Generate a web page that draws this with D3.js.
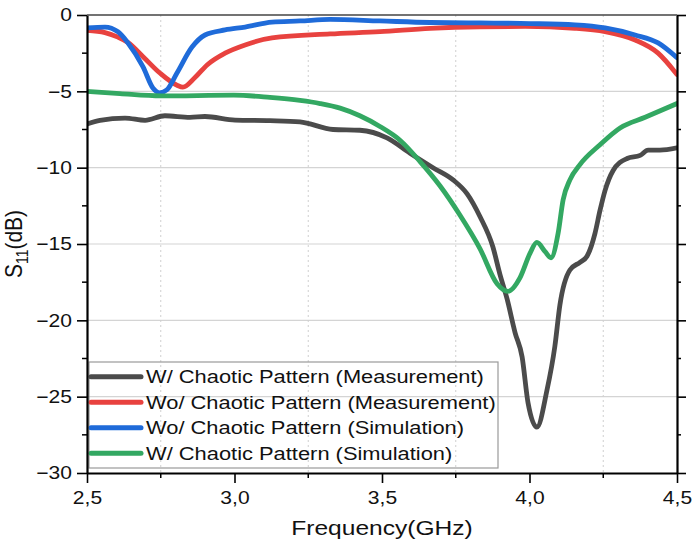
<!DOCTYPE html>
<meta charset="utf-8">
<title>S11 vs Frequency</title>
<style>
body { margin: 0; background: #fff; }
svg { font-family: "Liberation Sans", Arial, sans-serif; }
.grid-y line { stroke: #d4d4d4; stroke-width: 1.2px; }
.grid-x line { stroke: #cfcfcf; stroke-width: 1px; stroke-dasharray: 2,3; }
.axis path, .axis line { stroke: #000; }
.axis text { fill: #111; }
.curve { fill: none; stroke-width: 4.8px; stroke-linejoin: round; stroke-linecap: round; }
</style>
<svg width="694" height="551"></svg>
<script src="https://d3js.org/d3.v7.min.js"></script>
<script>
// W/ Chaotic Pattern (Measurement)
var wMeasF = [2.500, 2.544, 2.629, 2.697, 2.764, 2.849, 2.900, 3.002, 3.120, 3.222, 3.334, 3.425, 3.517, 3.595, 3.673, 3.741, 3.788, 3.832, 3.876, 3.900, 3.924, 3.951, 3.975, 3.995, 4.025, 4.059, 4.086, 4.103, 4.137, 4.171, 4.195, 4.222, 4.239, 4.256, 4.283, 4.331, 4.375, 4.402, 4.442, 4.500]
var wMeasS = [-7.14, -6.9, -6.75, -6.9, -6.6, -6.7, -6.65, -6.88, -6.92, -7.0, -7.5, -7.55, -8.05, -9.05, -10.0, -10.8, -11.7, -13.2, -15.2, -17.0, -18.6, -20.8, -22.4, -25.4, -27.0, -24.6, -21.7, -19.0, -16.7, -16.2, -15.8, -14.3, -12.8, -11.5, -10.2, -9.4, -9.2, -8.85, -8.85, -8.7]

// Wo/ Chaotic Pattern (Measurement)
var woMeasF = [2.500, 2.561, 2.605, 2.639, 2.690, 2.747, 2.805, 2.825, 2.866, 2.907, 2.968, 3.036, 3.127, 3.324, 3.493, 3.663, 3.832, 3.985, 4.154, 4.256, 4.358, 4.436, 4.500]
var woMeasS = [-1.0, -1.15, -1.45, -1.8, -2.73, -3.8, -4.6, -4.73, -4.1, -3.27, -2.5, -1.96, -1.5, -1.24, -1.09, -0.87, -0.77, -0.75, -0.87, -1.09, -1.64, -2.5, -3.9]

// Wo/ Chaotic Pattern (Simulation)
var woSimF = [2.500, 2.561, 2.605, 2.639, 2.690, 2.724, 2.747, 2.771, 2.805, 2.856, 2.900, 2.968, 3.036, 3.127, 3.222, 3.324, 3.493, 3.663, 3.832, 4.002, 4.154, 4.256, 4.358, 4.436, 4.500]
var woSimS = [-0.85, -0.79, -1.1, -1.83, -3.4, -4.8, -5.1, -4.9, -3.8, -2.1, -1.31, -0.98, -0.79, -0.46, -0.39, -0.29, -0.39, -0.49, -0.52, -0.56, -0.65, -0.85, -1.31, -1.83, -2.8]

// W/ Chaotic Pattern (Simulation)
var wSimF = [2.500, 2.612, 2.751, 2.998, 3.120, 3.222, 3.290, 3.358, 3.425, 3.493, 3.561, 3.629, 3.697, 3.764, 3.832, 3.890, 3.927, 3.968, 4.002, 4.025, 4.053, 4.073, 4.097, 4.114, 4.137, 4.171, 4.239, 4.307, 4.392, 4.500]
var wSimS = [-5.0, -5.15, -5.3, -5.25, -5.4, -5.6, -5.8, -6.1, -6.6, -7.3, -8.2, -9.6, -11.2, -13.1, -15.3, -17.6, -18.1, -17.2, -15.6, -14.9, -15.5, -15.9, -14.3, -12.1, -10.8, -9.8, -8.5, -7.4, -6.7, -5.8]

var legendLabels = ["W/ Chaotic Pattern (Measurement)", "Wo/ Chaotic Pattern (Measurement)", "Wo/ Chaotic Pattern (Simulation)", "W/ Chaotic Pattern (Simulation)"]
var seriesColors = ["#4b4b4b", "#e8423f", "#1f6bd9", "#33a862"]

var xTicks = [2.5, 3.0, 3.5, 4.0, 4.5]
var xMinor = [2.75, 3.25, 3.75, 4.25]
var yTicks = [0, -5, -10, -15, -20, -25, -30]
var yMinor = [-2.5, -7.5, -12.5, -17.5, -22.5, -27.5]

var series = [
	{f: wMeasF, s: wMeasS},
	{f: woMeasF, s: woMeasS},
	{f: woSimF, s: woSimS},
	{f: wSimF, s: wSimS}
]

var SX = 1.17 // the reference text is stretched sideways

var svg = d3.select("svg")
var pL = 87, pR = 677, pT = 15, pB = 473

var x = d3.scaleLinear().domain([2.5, 4.5]).range([pL, pR])
var y = d3.scaleLinear().domain([-30, 0]).range([pB, pT])

// grid
svg.append("g").attr("class", "grid-y")
	.selectAll("line").data(yTicks.filter(function(d) { return d < 0 && d > -30 }))
	.enter().append("line")
		.attr("x1", pL).attr("x2", pR)
		.attr("y1", function(d) { return y(d) }).attr("y2", function(d) { return y(d) })

svg.append("g").attr("class", "grid-x")
	.selectAll("line").data(xMinor)
	.enter().append("line")
		.attr("x1", function(d) { return x(d) }).attr("x2", function(d) { return x(d) })
		.attr("y1", pT).attr("y2", pB)

// legend box (transparent, grid shows through)
var lg = svg.append("g")
lg.append("rect")
	.attr("x", 89).attr("y", 362).attr("width", 409).attr("height", 106)
	.attr("fill", "none").attr("stroke", "#9a9a9a").attr("stroke-width", 1.2)

// curves
svg.append("clipPath").attr("id", "plot")
	.append("rect").attr("x", pL).attr("y", pT - 2).attr("width", pR - pL).attr("height", pB - pT + 2)

var line = d3.line()
	.x(function(d) { return x(d[0]) })
	.y(function(d) { return y(d[1]) })
	.curve(d3.curveMonotoneX)

svg.append("g").attr("clip-path", "url(#plot)")
	.selectAll("path").data(series)
	.enter().append("path")
		.attr("class", "curve")
		.attr("stroke", function(d, i) { return seriesColors[i] })
		.attr("d", function(d) { return line(d.f.map(function(v, k) { return [v, d.s[k]] })) })

// legend entries
var rowY = d3.scaleBand().domain(d3.range(legendLabels.length)).range([364, 466])
legendLabels.forEach(function(lbl, i) {
	var cy = rowY(i) + rowY.bandwidth() / 2
	lg.append("line")
		.attr("x1", 91).attr("x2", 141).attr("y1", cy).attr("y2", cy)
		.attr("stroke", seriesColors[i]).attr("stroke-width", 5).attr("stroke-linecap", "round")
	lg.append("text")
		.attr("transform", "translate(146," + cy + ") scale(" + SX + ",1)")
		.attr("dy", "0.36em")
		.attr("font-size", 18.7)
		.attr("fill", "#111")
		.text(lbl)
})

// axes
var fmtX = function(d) { return d3.format(".1f")(d).replace(".", ",") }

function minorTicks(g, vals, x1, x2, y1, y2) {
	g.selectAll(null).data(vals).enter().append("line")
		.attr("x1", x1).attr("x2", x2).attr("y1", y1).attr("y2", y2)
		.attr("stroke", "#000").attr("stroke-width", 1.5)
}

var gx = svg.append("g").attr("class", "axis")
	.attr("transform", "translate(0," + pB + ")")
	.call(d3.axisBottom(x).tickValues(xTicks).tickFormat(fmtX).tickSize(10).tickSizeOuter(0).tickPadding(8))
gx.selectAll("text").attr("font-size", 18).attr("transform", "scale(" + SX + ",1)")
minorTicks(gx, xMinor, function(d) { return x(d) }, function(d) { return x(d) }, 0, 5)

var gy = svg.append("g").attr("class", "axis")
	.attr("transform", "translate(" + pL + ",0)")
	.call(d3.axisLeft(y).tickValues(yTicks).tickSize(10).tickSizeOuter(0).tickPadding(5))
gy.selectAll("text").attr("font-size", 18)
	.attr("x", -15 / SX).attr("transform", "scale(" + SX + ",1)")
minorTicks(gy, yMinor, 0, -5, function(d) { return y(d) }, function(d) { return y(d) })

var gr = svg.append("g").attr("class", "axis")
	.attr("transform", "translate(" + pR + ",0)")
	.call(d3.axisRight(y).tickValues(yTicks).tickSize(9).tickSizeOuter(0).tickFormat(""))
minorTicks(gr, yMinor, 0, 4, function(d) { return y(d) }, function(d) { return y(d) })

svg.selectAll(".axis path").attr("stroke-width", 2.2)
svg.selectAll(".axis .tick line").attr("stroke-width", 1.6)

// top frame line
svg.append("line")
	.attr("x1", pL).attr("x2", pR).attr("y1", pT).attr("y2", pT)
	.attr("stroke", "#444").attr("stroke-width", 1.3)

// axis titles
svg.append("text")
	.attr("transform", "translate(" + ((pL + pR) / 2) + ",535) scale(" + SX + ",1)")
	.attr("text-anchor", "middle")
	.attr("font-size", 21)
	.attr("fill", "#111")
	.text("Frequency(GHz)")

var yl = svg.append("text")
	.attr("transform", "translate(22," + ((pT + pB) / 2) + ") scale(" + SX + ",1) rotate(-90)")
	.attr("text-anchor", "middle")
	.attr("font-size", 21)
	.attr("fill", "#111")
yl.append("tspan").text("S")
yl.append("tspan").attr("font-size", 14).attr("dy", 5).text("11")
yl.append("tspan").attr("dy", -5).text("(dB)")
</script>
